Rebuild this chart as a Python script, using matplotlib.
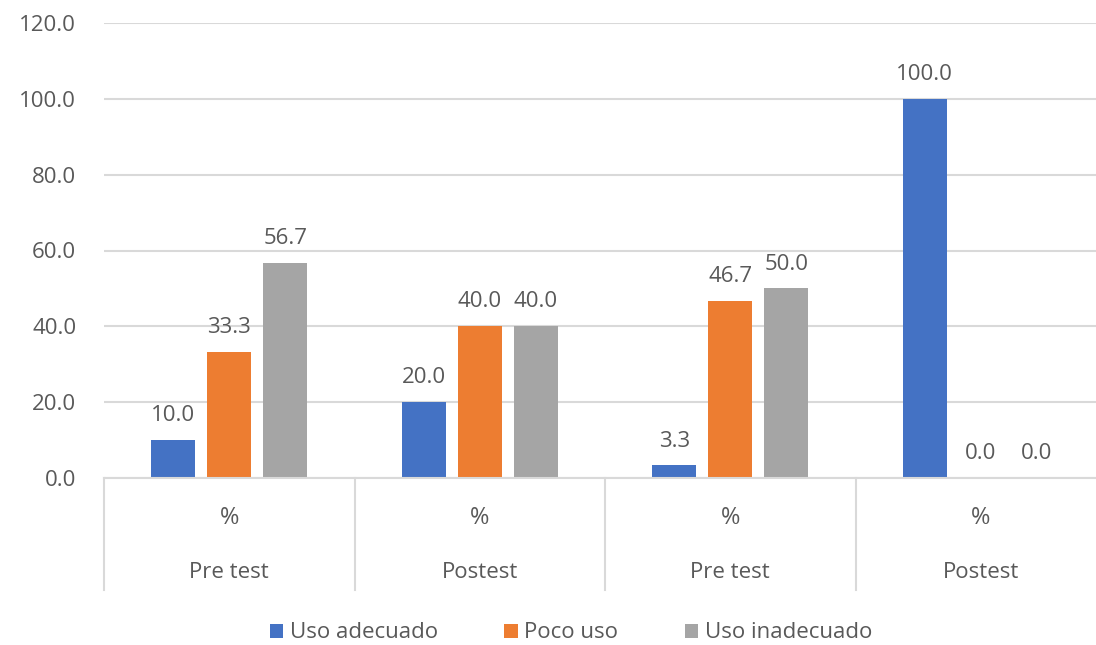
import matplotlib
matplotlib.use("Agg")
import matplotlib.pyplot as plt
import numpy as np
from matplotlib.patches import Patch

plt.rcParams['font.family'] = ['Open Sans', 'DejaVu Sans']

groups_top = ["%", "%", "%", "%"]
groups_bottom = ["Pre test", "Postest", "Pre test", "Postest"]
series_names = ["Uso adecuado", "Poco uso", "Uso inadecuado"]
uso_adecuado = [10.0, 20.0, 3.3, 100.0]
poco_uso = [33.3, 40.0, 46.7, 0.0]
uso_inadecuado = [56.7, 40.0, 50.0, 0.0]
colors = ["#4472C4", "#ED7D31", "#A5A5A5"]
text_color = "#595959"
grid_color = "#D9D9D9"
fs = 16

fig = plt.figure(figsize=(10.96, 6.45), dpi=100)
ax = fig.add_axes([104/1096, (645-478)/645, 1002/1096, 455/645])

x = np.arange(len(groups_top)) + 0.5
bw = 0.176
step = 0.224
for i, (vals, c) in enumerate(zip([uso_adecuado, poco_uso, uso_inadecuado], colors)):
    pos = x + (i - 1) * step
    ax.bar(pos, vals, width=bw, color=c, zorder=3)
    for p, v in zip(pos, vals):
        ax.annotate(f"{v:.1f}", (p, v), xytext=(0, 10), textcoords="offset points",
                    ha="center", va="bottom", fontsize=fs, color=text_color)

ax.set_xlim(0, len(groups_top))
ax.set_ylim(0, 120)
ax.set_yticks(np.arange(0, 121, 20))
ax.set_yticklabels([f"{t:.1f}" for t in np.arange(0, 121, 20)], fontsize=fs, color=text_color)
ax.tick_params(axis='y', length=0, pad=20)
ax.set_xticks([])
ax.grid(axis='y', color=grid_color, linewidth=1.5, zorder=0)
for s in ['top', 'right', 'left']:
    ax.spines[s].set_visible(False)
ax.spines['bottom'].set_color(grid_color)
ax.spines['bottom'].set_linewidth(1.5)
ax.spines['bottom'].set_zorder(4)

ph = 455.0
sep_bottom = -(590 - 478) / ph
for k in range(len(groups_top) + 1):
    ax.plot([k, k], [0, sep_bottom], transform=ax.get_xaxis_transform(),
            color=grid_color, linewidth=1.5, clip_on=False)
for k in range(len(groups_top)):
    ax.text(k + 0.5, -(518 - 478) / ph, groups_top[k], transform=ax.get_xaxis_transform(),
            ha="center", va="center", fontsize=fs + 1, color=text_color)
    ax.text(k + 0.5, -(573 - 478) / ph, groups_bottom[k], transform=ax.get_xaxis_transform(),
            ha="center", va="center", fontsize=fs, color=text_color)

handles = [Patch(facecolor=c, edgecolor='none') for c in colors]
fig.legend(handles, series_names, loc="center", bbox_to_anchor=(571/1096, (645-633)/645),
           ncol=3, frameon=False, fontsize=fs, labelcolor=text_color,
           handlelength=0.6, handleheight=0.6, handletextpad=0.3, columnspacing=3.0)

fig.savefig("out.png", dpi=100)
